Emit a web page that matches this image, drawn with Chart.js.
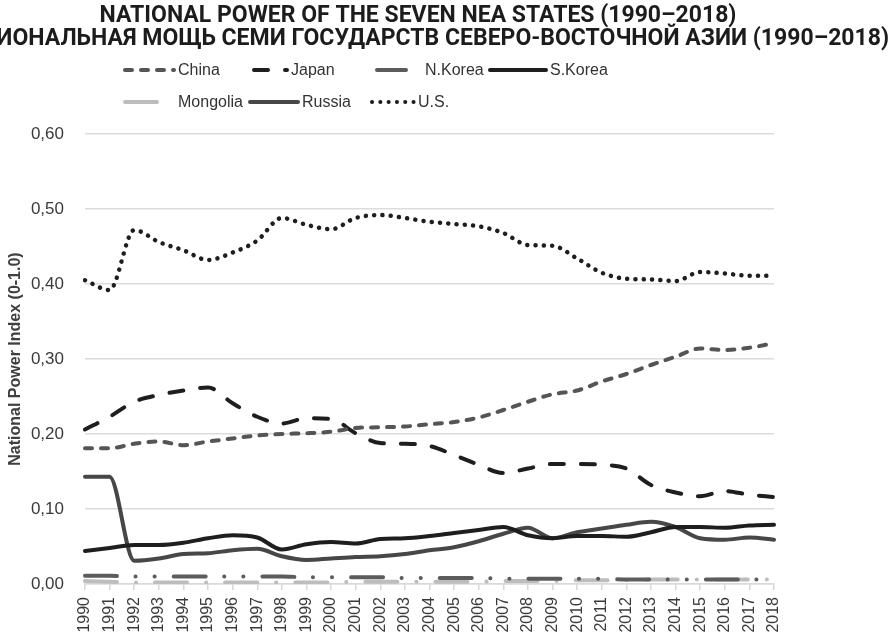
<!DOCTYPE html>
<html lang="en">
  <head>
    <meta charset="UTF-8" />
    <meta name="viewport" content="width=device-width, initial-scale=1.0" />
    <script src="https://cdn.jsdelivr.net/npm/chart.js@4.4.1/dist/chart.umd.min.js"></script>
    <title>National power of the seven NEA states</title>
    <style>
      body {
        margin: 0;
        padding: 0;
        background: #fff;
      }

      .container {
        width: 894px;
        height: 634px;
      }
    </style>
  </head>
  <body>
    <div class="container">
      <canvas id="powerChart"></canvas>
    </div>
    <script>
      const titleLines = [
        'NATIONAL POWER OF THE SEVEN NEA STATES (1990–2018)',
        'НАЦИОНАЛЬНАЯ МОЩЬ СЕМИ ГОСУДАРСТВ СЕВЕРО-ВОСТОЧНОЙ АЗИИ (1990–2018)',
      ]
      const years = ['1990','1991','1992','1993','1994','1995','1996','1997','1998','1999','2000','2001','2002','2003','2004','2005','2006','2007','2008','2009','2010','2011','2012','2013','2014','2015','2016','2017','2018']

      const china = [0.181,0.181,0.187,0.190,0.185,0.190,0.194,0.198,0.200,0.201,0.203,0.208,0.209,0.210,0.213,0.216,0.222,0.232,0.243,0.253,0.258,0.270,0.280,0.292,0.303,0.314,0.312,0.315,0.321]
      const japan = [0.206,0.223,0.243,0.252,0.258,0.262,0.241,0.223,0.214,0.221,0.220,0.201,0.188,0.187,0.184,0.172,0.159,0.148,0.154,0.160,0.160,0.159,0.154,0.132,0.122,0.117,0.124,0.119,0.116]
      const nKorea = [0.011,0.011,0.010,0.010,0.010,0.010,0.010,0.010,0.010,0.009,0.009,0.009,0.009,0.008,0.008,0.008,0.008,0.007,0.007,0.007,0.007,0.007,0.006,0.006,0.006,0.006,0.006,0.006,0.006]
      const sKorea = [0.044,0.048,0.052,0.052,0.055,0.061,0.065,0.062,0.046,0.053,0.056,0.054,0.060,0.061,0.064,0.068,0.072,0.076,0.065,0.061,0.064,0.064,0.063,0.069,0.076,0.076,0.075,0.078,0.079]
      const mongolia = [0.004,0.003,0.002,0.002,0.002,0.002,0.002,0.002,0.002,0.002,0.002,0.003,0.003,0.003,0.003,0.003,0.003,0.004,0.004,0.004,0.005,0.005,0.005,0.006,0.006,0.006,0.006,0.006,0.006]
      const russia = [0.143,0.143,0.031,0.034,0.040,0.041,0.045,0.047,0.037,0.032,0.034,0.036,0.037,0.040,0.045,0.049,0.057,0.067,0.075,0.061,0.069,0.074,0.079,0.083,0.076,0.061,0.059,0.062,0.059]
      const us = [0.405,0.392,0.472,0.456,0.445,0.432,0.442,0.458,0.488,0.479,0.473,0.488,0.492,0.488,0.483,0.480,0.477,0.468,0.452,0.451,0.434,0.415,0.407,0.406,0.404,0.416,0.414,0.411,0.411]

      const sansFont = '"Liberation Sans", Arial, sans-serif'

      // excel-style legend: symbol start, symbol length, text start, row y
      const legendSlots = [
        { x: 123, w: 53, tx: 178, y: 70 },
        { x: 252, w: 37, tx: 291, y: 70 },
        { x: 375, w: 33, tx: 425, y: 70 },
        { x: 488, w: 60, tx: 550, y: 70 },
        { x: 123, w: 37, tx: 178, y: 102 },
        { x: 248, w: 52, tx: 302, y: 102 },
        { x: 370, w: 47, tx: 418, y: 102 },
      ]

      const header = {
        id: 'header',
        afterDraw(chart) {
          const ctx = chart.ctx
          ctx.save()
          ctx.fillStyle = '#1c1c1c'
          ctx.font = 'bold 23px Roboto, sans-serif'
          ctx.textAlign = 'center'
          ctx.textBaseline = 'middle'
          ctx.fillText(titleLines[0], 418, 16)
          ctx.fillText(titleLines[1], 418, 39)

          ctx.font = '16px ' + sansFont
          ctx.textAlign = 'left'
          chart.data.datasets.forEach((ds, i) => {
            const slot = legendSlots[i]
            ctx.beginPath()
            ctx.setLineDash(ds.borderDash || [])
            ctx.lineCap = 'round'
            ctx.lineWidth = 4
            ctx.strokeStyle = ds.borderColor
            ctx.moveTo(slot.x + 2, slot.y)
            ctx.lineTo(slot.x + slot.w - 2, slot.y)
            ctx.stroke()
            ctx.setLineDash([])
            ctx.fillStyle = '#333'
            ctx.fillText(ds.label, slot.tx, slot.y + 1)
          })
          ctx.restore()
        },
      }

      new Chart(document.getElementById('powerChart'), {
        type: 'line',
        data: {
          labels: years,
          datasets: [
            { label: 'China', data: china, borderColor: '#555555', borderDash: [7, 9] },
            { label: 'Japan', data: japan, borderColor: '#1e1e1e', borderDash: [14, 17] },
            { label: 'N.Korea', data: nKorea, borderColor: '#5c5c5c', borderDash: [32, 18.5, 0.1, 19, 0.1, 19] },
            { label: 'S.Korea', data: sKorea, borderColor: '#1e1e1e' },
            { label: 'Mongolia', data: mongolia, borderColor: '#bdbdbd', borderDash: [32, 19, 0.1, 19] },
            { label: 'Russia', data: russia, borderColor: '#474747' },
            { label: 'U.S.', data: us, borderColor: '#1e1e1e', borderDash: [0.1, 8.2], borderWidth: 4.5 },
          ],
        },
        options: {
          responsive: true,
          maintainAspectRatio: false,
          animation: false,
          layout: {
            padding: { top: 134, right: 120, bottom: 1.5, left: 0 },
          },
          elements: {
            point: { radius: 0 },
            line: {
              borderWidth: 4,
              borderCapStyle: 'round',
              borderJoinStyle: 'round',
              cubicInterpolationMode: 'monotone',
              fill: false,
            },
          },
          plugins: {
            legend: { display: false },
            title: { display: false },
            tooltip: { enabled: false },
          },
          scales: {
            x: {
              offset: false,
              afterFit: (scale) => {
                scale.height = 48.5
              },
              grid: {
                drawOnChartArea: false,
                tickLength: 6,
                color: '#d6d6d6',
                lineWidth: 1.5,
              },
              border: { color: '#d9d9d9', width: 1.5 },
              ticks: {
                autoSkip: false,
                minRotation: 90,
                maxRotation: 90,
                padding: 7,
                color: '#3a3a3a',
                font: { family: sansFont, size: 16 },
              },
            },
            y: {
              min: 0,
              max: 0.6,
              afterFit: (scale) => {
                scale.width = 85
              },
              grid: {
                drawTicks: false,
                color: '#dcdcdc',
                lineWidth: 1.5,
              },
              border: { display: false },
              ticks: {
                stepSize: 0.1,
                padding: 21,
                color: '#3a3a3a',
                font: { family: sansFont, size: 17 },
                callback: (value) => value.toFixed(2).replace('.', ','),
              },
              title: {
                display: true,
                text: 'National Power Index (0-1.0)',
                color: '#404040',
                padding: 6,
                font: { family: sansFont, size: 16, weight: 'bold' },
              },
            },
          },
        },
        plugins: [header],
      })
    </script>
  </body>
</html>
